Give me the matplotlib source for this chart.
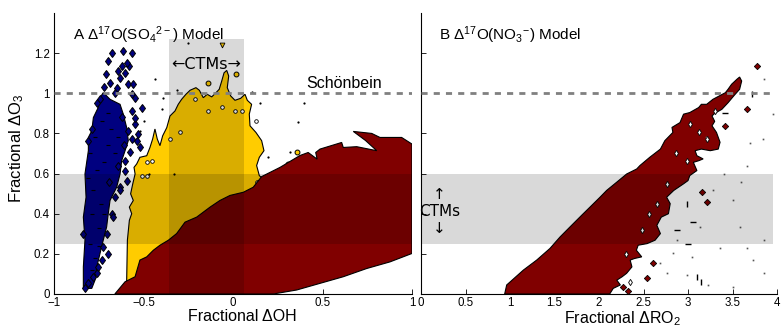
import numpy as np
import matplotlib
matplotlib.use("Agg")
import matplotlib.pyplot as plt

plt.rcParams['font.family'] = ['Liberation Sans', 'DejaVu Sans']
plt.rcParams['mathtext.fontset'] = 'custom'
plt.rcParams['mathtext.rm'] = 'Liberation Sans'
plt.rcParams['mathtext.default'] = 'rm'

# --- ranges of the CTM estimates and the Schonbein reference ---
ctm_o3 = [0.25, 0.60]
ctm_oh = [-0.36, 0.06]
ctm_oh_top = 1.27
ro2_band_end = 3.95
schonbein = 1.0

# --- panel A: contour outlines (fractional dOH, fractional dO3) ---
blue_x = [-0.836, -0.836, -0.827, -0.836, -0.821, -0.827, -0.808, -0.808, -0.789, -0.780,
          -0.753, -0.743, -0.725, -0.706, -0.687, -0.669, -0.631, -0.613, -0.594, -0.585,
          -0.603, -0.622, -0.631, -0.650, -0.687, -0.697, -0.706, -0.725, -0.743, -0.761,
          -0.771, -0.789]
blue_y = [0.028, 0.135, 0.268, 0.383, 0.482, 0.598, 0.714, 0.780, 0.813, 0.879,
          0.929, 0.978, 1.003, 0.987, 0.970, 0.962, 0.945, 0.896, 0.829, 0.764,
          0.714, 0.664, 0.598, 0.532, 0.466, 0.400, 0.334, 0.268, 0.202, 0.135,
          0.069, 0.028]

yellow_x = [-0.598, -0.594, -0.590, -0.579, -0.566, -0.579, -0.557, -0.572, -0.560, -0.547,
            -0.553, -0.538, -0.520, -0.482, -0.464, -0.449, -0.436, -0.423, -0.408, -0.393,
            -0.370, -0.352, -0.324, -0.306, -0.287, -0.263, -0.240, -0.207, -0.188, -0.166,
            -0.144, -0.119, -0.095, -0.077, -0.063, -0.050, -0.035, -0.024, -0.032, -0.013,
            0.011, 0.043, 0.067, 0.080, 0.104, 0.091, 0.095, 0.128, 0.160, 0.173,
            0.147, 0.132, 0.147, 0.160, 0.160, -0.598]
yellow_y = [0.000, 0.069, 0.268, 0.367, 0.400, 0.433, 0.466, 0.499, 0.549, 0.598,
            0.631, 0.648, 0.681, 0.689, 0.730, 0.772, 0.822, 0.772, 0.739, 0.788,
            0.829, 0.887, 0.912, 0.945, 0.970, 0.995, 1.015, 1.028, 1.015, 0.978,
            0.995, 0.982, 1.003, 1.020, 1.061, 1.102, 1.114, 1.086, 1.028, 0.987,
            0.965, 0.975, 0.995, 0.965, 0.945, 0.896, 0.838, 0.805, 0.764, 0.714,
            0.681, 0.640, 0.590, 0.579, 0.000, 0.000]

red_a_x = [-0.660, -0.603, -0.547, -0.520, -0.482, -0.445, -0.408, -0.361, -0.315, -0.268,
           -0.203, -0.128, -0.073, -0.017, 0.058, 0.113, 0.160, 0.263, 0.374, 0.420,
           0.470, 0.462, 0.486, 0.607, 0.616, 0.691, 0.803, 0.740, 0.672, 0.775,
           0.821, 0.942, 1.000, 1.000, 0.877, 0.747, 0.616, 0.486, 0.356, 0.225]
red_a_y = [0.000, 0.061, 0.086, 0.169, 0.185, 0.218, 0.243, 0.268, 0.301, 0.358,
           0.383, 0.433, 0.466, 0.491, 0.507, 0.532, 0.585, 0.631, 0.690, 0.705,
           0.672, 0.705, 0.722, 0.755, 0.730, 0.734, 0.714, 0.765, 0.810, 0.800,
           0.780, 0.780, 0.747, 0.202, 0.160, 0.127, 0.086, 0.053, 0.020, 0.000]

blue_spots = np.array([
    (-0.678, 1.201), (-0.613, 1.210), (-0.566, 1.201), (-0.709, 1.094), (-0.622, 1.135),
    (-0.603, 1.102), (-0.579, 1.135), (-0.631, 1.077), (-0.687, 1.053), (-0.650, 1.028),
    (-0.585, 1.045), (-0.566, 0.995), (-0.510, 0.929), (-0.566, 0.912), (-0.547, 0.846),
    (-0.585, 0.813), (-0.520, 0.730), (-0.575, 0.706), (-0.538, 0.764), (-0.603, 0.615),
    (-0.594, 0.565), (-0.631, 0.532), (-0.659, 0.482), (-0.678, 0.400), (-0.706, 0.301),
    (-0.725, 0.235), (-0.734, 0.169), (-0.761, 0.103), (-0.808, 0.053), (-0.827, 0.028),
    (-0.641, 1.110), (-0.594, 1.151), (-0.557, 1.045), (-0.547, 0.978), (-0.547, 0.879),
    (-0.529, 0.797), (-0.566, 0.772), (-0.603, 0.664), (-0.631, 0.516), (-0.669, 0.383),
    (-0.753, 0.135), (-0.780, 0.086), (-0.743, 0.970), (-0.789, 0.822), (-0.808, 0.764),
    (-0.836, 0.301), (-0.700, 1.160), (-0.660, 1.000), (-0.720, 1.030), (-0.760, 0.950),
    (-0.620, 0.880), (-0.610, 0.740), (-0.640, 0.640), (-0.690, 0.560), (-0.700, 0.200),
])
blue_lines = np.array([
    (-0.80, 0.70), (-0.76, 0.62), (-0.72, 0.66), (-0.78, 0.52), (-0.74, 0.45),
    (-0.79, 0.40), (-0.75, 0.33), (-0.80, 0.25), (-0.77, 0.18), (-0.70, 0.74),
    (-0.68, 0.82), (-0.73, 0.86), (-0.77, 0.78), (-0.66, 0.70), (-0.81, 0.58),
    (-0.72, 0.40), (-0.79, 0.12), (-0.70, 0.90), (-0.64, 0.78), (-0.75, 0.24),
])
yellow_isles = np.array([(-0.138, 1.052), (0.015, 1.095), (0.356, 0.706), (0.309, 0.648)])
yellow_holes = np.array([
    (-0.212, 0.970), (-0.138, 0.912), (0.011, 0.912), (0.048, 0.912), (-0.296, 0.805),
    (-0.454, 0.664), (-0.482, 0.656), (-0.510, 0.590), (-0.482, 0.590), (0.132, 0.557),
    (-0.352, 0.772), (-0.060, 0.930), (0.130, 0.860),
])
specks_a = np.array([
    (-0.436, 1.069), (-0.393, 0.978), (-0.398, 0.921), (-0.315, 1.015), (0.151, 0.953),
    (0.104, 1.008), (0.397, 0.950), (0.365, 0.859), (0.197, 0.681), (0.318, 0.706),
    (-0.251, 1.251), (-0.470, 0.600), (-0.330, 0.600), (-0.520, 0.810), (-0.500, 0.860),
])

# --- panel B: contour outline (fractional dRO2, fractional dO3) ---
red_b_x = [0.940, 0.963, 1.150, 1.300, 1.449, 1.562, 1.674, 1.805, 1.899, 2.011,
           2.086, 2.199, 2.311, 2.424, 2.460, 2.570, 2.690, 2.740, 2.830, 2.820,
           2.910, 2.950, 3.020, 3.120, 3.150, 3.210, 3.280, 3.420, 3.450, 3.490,
           3.550, 3.580, 3.603, 3.580, 3.520, 3.450, 3.380, 3.300, 3.270, 3.300,
           3.270, 3.320, 3.360, 3.340, 3.250, 3.150, 3.080, 3.100, 3.170, 3.120,
           3.060, 3.100, 3.020, 3.000, 2.950, 2.840, 2.760, 2.800, 2.780, 2.700,
           2.650, 2.690, 2.630, 2.540, 2.440, 2.420, 2.480, 2.400, 2.350, 2.370,
           2.310, 2.260, 2.200, 2.240, 2.160, 2.120]
red_b_y = [0.000, 0.045, 0.119, 0.169, 0.227, 0.284, 0.334, 0.392, 0.433, 0.482,
           0.516, 0.557, 0.598, 0.623, 0.640, 0.681, 0.722, 0.764, 0.805, 0.830,
           0.854, 0.896, 0.904, 0.929, 0.945, 0.945, 0.970, 1.003, 1.020, 1.045,
           1.070, 1.081, 1.061, 1.020, 0.990, 0.953, 0.920, 0.900, 0.887, 0.860,
           0.838, 0.805, 0.756, 0.722, 0.714, 0.722, 0.714, 0.689, 0.673, 0.664,
           0.656, 0.615, 0.590, 0.565, 0.549, 0.516, 0.482, 0.450, 0.400, 0.383,
           0.342, 0.301, 0.268, 0.251, 0.243, 0.218, 0.185, 0.177, 0.169, 0.135,
           0.103, 0.086, 0.069, 0.045, 0.028, 0.000]
red_b_spots = np.array([
    (3.772, 1.135), (3.660, 0.921), (3.420, 0.838), (3.154, 0.507), (3.210, 0.458),
    (2.540, 0.078), (2.610, 0.152), (2.270, 0.036), (2.330, 0.015),
])
red_b_holes = np.array([
    (3.020, 0.846), (3.120, 0.805), (3.210, 0.772), (3.300, 0.912), (2.990, 0.664),
    (2.760, 0.549), (2.650, 0.450), (2.480, 0.317), (2.860, 0.700), (2.560, 0.400),
    (2.350, 0.060), (2.300, 0.200),
])
dash_h_b = np.array([(3.416, 0.901), (3.060, 0.359), (2.873, 0.317), (3.000, 0.250)])
dash_v_b = np.array([(2.985, 0.450), (3.100, 0.086), (3.715, 0.995), (3.150, 0.060)])
specks_b = np.array([
    (3.85, 1.07), (3.96, 0.896), (3.84, 0.77), (3.66, 0.64), (3.60, 0.557),
    (3.28, 0.516), (3.51, 0.466), (3.58, 0.334), (3.13, 0.334), (3.66, 0.227),
    (3.36, 0.227), (3.04, 0.185), (2.985, 0.094), (3.23, 0.045), (3.51, 0.036),
    (3.85, 0.103), (3.73, 0.169), (3.85, 0.268), (2.83, 0.202), (2.76, 0.103),
    (2.69, 0.152), (2.873, 0.268), (3.40, 0.60), (3.70, 0.75), (3.20, 0.78),
])

xticks_a = [-1, -0.5, 0, 0.5, 1]
xticks_b = [0, 0.5, 1, 1.5, 2, 2.5, 3, 3.5, 4]
yticks = [0, 0.2, 0.4, 0.6, 0.8, 1, 1.2]

blue = '#000080'
yellow = '#ffcc00'
red = '#800000'
band = dict(facecolor='k', alpha=0.15, lw=0, zorder=6)

fig = plt.figure(figsize=(7.81, 3.27), dpi=100)
ax1 = fig.add_axes([54 / 781, 33 / 327, 358 / 781, 281 / 327])
ax2 = fig.add_axes([421 / 781, 33 / 327, 356 / 781, 281 / 327])

# panel A contours
ax1.fill(yellow_x, yellow_y, fc=yellow, ec='k', lw=0.8, zorder=2)
ax1.plot(yellow_isles[:, 0], yellow_isles[:, 1], 'o', ms=3.5, mfc=yellow, mec='k', mew=0.7, zorder=2.2)
ax1.plot([-0.063], [1.24], 'v', ms=3.5, mfc=yellow, mec='k', mew=0.6, zorder=2.2)
ax1.plot(yellow_holes[:, 0], yellow_holes[:, 1], 'o', ms=2.6, mfc='white', mec='k', mew=0.6, zorder=2.3)
ax1.fill(blue_x, blue_y, fc=blue, ec='k', lw=0.8, zorder=2)
ax1.plot(blue_spots[:, 0], blue_spots[:, 1], 'd', ms=4.5, mfc=blue, mec='k', mew=0.7, zorder=2.4)
ax1.plot(blue_lines[:, 0], blue_lines[:, 1], '_', ms=3.5, color='k', mew=0.8, zorder=2.5)
ax1.fill(red_a_x, red_a_y, fc=red, ec='k', lw=0.8, zorder=3)
ax1.plot(specks_a[:, 0], specks_a[:, 1], 'o', ms=1.6, color='k', mew=0, zorder=3.5)

# panel B contours
ax2.fill(red_b_x, red_b_y, fc=red, ec='k', lw=0.8, zorder=3)
ax2.plot(red_b_holes[:, 0], red_b_holes[:, 1], 'd', ms=3.2, mfc='white', mec='k', mew=0.6, zorder=3.2)
ax2.plot(red_b_spots[:, 0], red_b_spots[:, 1], 'D', ms=3.2, mfc=red, mec='k', mew=0.6, zorder=3.3)
ax2.plot(dash_h_b[:, 0], dash_h_b[:, 1], '_', ms=5, color='k', mew=1.0, zorder=3.4)
ax2.plot(dash_v_b[:, 0], dash_v_b[:, 1], '|', ms=4, color='k', mew=1.0, zorder=3.4)
ax2.plot(specks_b[:, 0], specks_b[:, 1], 's', ms=1.2, color='#555555', mew=0, zorder=3.4)

# CTM bands and Schonbein line
ax1.fill_between([-1, 1], ctm_o3[0], ctm_o3[1], **band)
ax1.fill_between(ctm_oh, 0, ctm_oh_top, **band)
ax2.fill_between([0, ro2_band_end], ctm_o3[0], ctm_o3[1], **band)
dash = dict(color='#808080', lw=2.0, dashes=(2.2, 2.2), zorder=7)
ax1.plot([-1, 1], [schonbein, schonbein], **dash)
ax2.plot([0, ro2_band_end], [schonbein, schonbein], **dash)

ax1.text(-0.894, 1.264, 'A Δ$^{17}$O(SO$_4$$^{2-}$) Model', fontsize=11, zorder=8)
ax2.text(0.202, 1.264, 'B Δ$^{17}$O(NO$_3$$^{-}$) Model', fontsize=11, zorder=8)
ax1.text(0.408, 1.012, 'Schönbein', fontsize=11.5, va='bottom', zorder=8)
ax1.text(np.mean(ctm_oh), 1.145, '←CTMs→', fontsize=11.5, ha='center', va='center',
         family=['DejaVu Sans'], zorder=8)
ax2.text(0.21, 0.41, '↑\nCTMs\n↓', fontsize=11, ha='center', va='center',
         family=['DejaVu Sans'], linespacing=1.15, zorder=8)

for ax in (ax1, ax2):
    ax.set_ylim(0, 1.4)
    ax.set_yticks(yticks)
    ax.spines['top'].set_visible(False)
    ax.spines['right'].set_visible(False)
    ax.spines['left'].set_linewidth(0.8)
    ax.spines['bottom'].set_linewidth(0.8)
    ax.tick_params(direction='in', length=3.5, width=0.6, labelsize=8.3, pad=3)
    ax.tick_params(axis='x', pad=2.5)

ax1.set_xlim(-1, 1)
ax1.set_xticks(xticks_a)
ax1.set_xticklabels(['\u22121', '\u22120.5', '0', '0.5', '1'])
ax1.set_yticklabels(['0', '0.2', '0.4', '0.6', '0.8', '1', '1.2'])
ax2.set_xlim(0, 4)
ax2.set_xticks(xticks_b)
ax2.set_xticklabels(['0', '0.5', '1', '1.5', '2', '2.5', '3', '3.5', '4'])
ax2.set_yticklabels([])

ax1.set_xlabel('Fractional ΔOH', fontsize=11.5)
ax1.xaxis.set_label_coords(0.525, -0.055)
ax1.set_ylabel('Fractional ΔO$_3$', fontsize=12)
ax1.yaxis.set_label_coords(-0.078, 0.52)
ax2.set_xlabel('Fractional ΔRO$_2$', fontsize=11.5)
ax2.xaxis.set_label_coords(0.565, -0.055)

fig.savefig('out.png', dpi=100)
